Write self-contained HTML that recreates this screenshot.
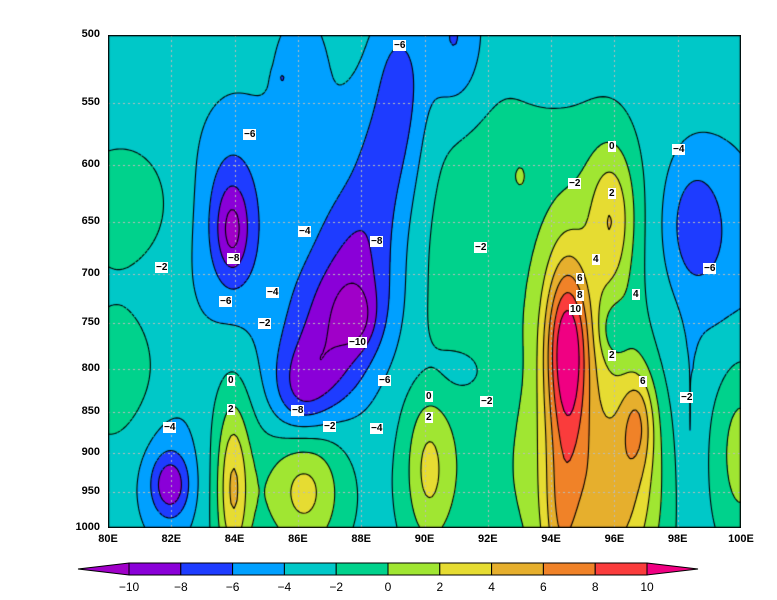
<!DOCTYPE html>
<html><head><meta charset="utf-8"><style>
body{margin:0;background:#fff;width:777px;height:600px;overflow:hidden;position:relative;font-family:"Liberation Sans",sans-serif;}
#c{position:absolute;left:108px;top:35px;}
.t{position:absolute;font-size:11px;font-weight:bold;color:#000;}
.yl{width:40px;text-align:right;left:60px;}
.xl{top:533px;width:40px;text-align:center;}
.lb{position:absolute;background:#fff;font-size:10px;font-weight:bold;padding:0 1px;line-height:11px;}
</style></head><body>
<canvas id="c" width="633" height="493"></canvas>
<svg width="777" height="600" style="position:absolute;left:0;top:0" id="ov"></svg>
<div id="labs"></div>
<script>
const W=633,H=493;
const YP=p=>35+493*Math.log(p/500)/Math.LN2;
const X=l=>(l-80)*31.65;
const B=[
[125,205,2.3,40,45],[118,375,2.3,30,50],
[232,220,-3.5,20,55],[232,232,-3,10,28],[230,230,-1.3,45,110],
[300,60,-1,20,45],[282,78,-2,4,5],
[400,80,-3.3,18,50],[385,160,-2.8,25,50],[360,240,-3,30,45],[345,310,-4.5,35,40],[320,370,-4,30,35],[300,400,-3,20,30],[357,318,-2.5,12,20],[340,260,-1.2,60,170],
[455,40,-3.5,20,50],
[695,225,-3.2,18,40],[700,240,-1.5,40,90],[741,260,-1,25,80],
[475,260,2.5,55,130],[570,200,0.6,40,60],[520,175,1.5,5,10],
[460,370,-1.5,30,25],
[170,485,-4.5,12,20],[170,480,-2.5,25,50],
[233,490,4.5,10,55],[233,470,2.5,20,90],
[305,490,4,25,45],[300,490,2,45,60],
[428,470,3.5,15,50],[430,480,1.5,30,80],
[485,490,1,35,60],
[567,365,7,15,75],[567,335,4,16,50],[590,420,4.5,40,150],[560,500,1.5,50,120],[600,528,2,40,80],[560,528,3,12,60],[630,490,3,25,60],
[612,230,3,15,45],[612,190,2.5,20,50],[638,420,5,12,35],[614,330,-2.5,10,20],
[741,450,4,20,70],[690,460,-1.5,8,80]];
function f(x,y){let v=-3;for(const b of B){const dx=(x-b[0])/b[3],dy=(y-b[1])/b[4];v+=b[2]*Math.exp(-0.5*(dx*dx+dy*dy));}return v;}
const cols=["#a000c8","#8a00d8","#1e3cff","#00a0ff","#00c8c8","#00d28c","#a0e632","#e6dc32","#e6af2d","#f08228","#fa3c3c","#f00082"];
function ci(v){let i=Math.floor((v+10)/2)+1;return Math.max(0,Math.min(11,i));}
const rgb=cols.map(c=>[parseInt(c.substr(1,2),16),parseInt(c.substr(3,2),16),parseInt(c.substr(5,2),16)]);
const ctx=document.getElementById('c').getContext('2d');
const img=ctx.createImageData(W,H);
const S=3,gw=Math.ceil(W/S)+1,gh=Math.ceil(H/S)+1,G=[];
for(let j=0;j<gh;j++){G[j]=[];for(let i=0;i<gw;i++)G[j][i]=f(108+i*S,35+j*S);}
function gv(x,y){const i=Math.min(gw-2,Math.floor(x/S)),j=Math.min(gh-2,Math.floor(y/S));const fx=x/S-i,fy=y/S-j;
return G[j][i]*(1-fx)*(1-fy)+G[j][i+1]*fx*(1-fy)+G[j+1][i]*(1-fx)*fy+G[j+1][i+1]*fx*fy;}
for(let y=0;y<H;y++)for(let x=0;x<W;x++){const c=rgb[ci(gv(x,y))];const k=(y*W+x)*4;img.data[k]=c[0];img.data[k+1]=c[1];img.data[k+2]=c[2];img.data[k+3]=255;}
ctx.putImageData(img,0,0);
ctx.strokeStyle="#bbb";ctx.setLineDash([2,3]);ctx.lineWidth=1;
for(let l=82;l<100;l+=2){ctx.beginPath();ctx.moveTo(Math.round(X(l))+.5,0);ctx.lineTo(Math.round(X(l))+.5,H);ctx.stroke();}
for(let p=550;p<1000;p+=50){const y=Math.round(YP(p)-35);ctx.beginPath();ctx.moveTo(0,y+.5);ctx.lineTo(W,y+.5);ctx.stroke();}
ctx.lineWidth=1.1;ctx.strokeStyle="#000";
for(let lv=-10;lv<=10;lv+=2){
 ctx.setLineDash(lv<0?[3,2]:[]);ctx.beginPath();
 for(let j=0;j<gh-1;j++)for(let i=0;i<gw-1;i++){
  const a=G[j][i],b=G[j][i+1],c=G[j+1][i+1],d=G[j+1][i];const pts=[];
  const e=(v1,v2,x1,y1,x2,y2)=>{if((v1<lv)!=(v2<lv)){const t=(lv-v1)/(v2-v1);pts.push([x1+(x2-x1)*t,y1+(y2-y1)*t]);}};
  const x0=i*S,y0=j*S;
  e(a,b,x0,y0,x0+S,y0);e(b,c,x0+S,y0,x0+S,y0+S);e(c,d,x0+S,y0+S,x0,y0+S);e(d,a,x0,y0+S,x0,y0);
  for(let k=0;k+1<pts.length;k+=2){ctx.moveTo(pts[k][0],pts[k][1]);ctx.lineTo(pts[k+1][0],pts[k+1][1]);}
 }
 ctx.stroke();
}
ctx.setLineDash([]);ctx.lineWidth=1.5;ctx.strokeRect(0.5,0.5,W-1,H-1);
let h="";
for(let p=500;p<=1000;p+=50)h+=`<div class="t yl" style="top:${YP(p)-7}px">${p}</div>`;
for(let l=80;l<=100;l+=2)h+=`<div class="t xl" style="left:${108+X(l)-20}px">${l}E</div>`;
const L=[[399,46,"-6"],[249,135,"-6"],[161,268,"-2"],[233,259,"-8"],[225,302,"-6"],[304,232,"-4"],[272,293,"-4"],[264,324,"-2"],[376,242,"-8"],[354,343,"-10"],[384,381,"-6"],[297,411,"-8"],[329,427,"-2"],[376,429,"-4"],[169,428,"-4"],[233,381,"0"],[233,410,"2"],[431,397,"0"],[431,418,"2"],[486,402,"-2"],[480,248,"-2"],[574,184,"-2"],[614,147,"0"],[614,194,"2"],[598,260,"4"],[582,279,"6"],[582,296,"8"],[575,310,"10"],[638,295,"4"],[614,356,"2"],[645,382,"6"],[678,150,"-4"],[709,269,"-6"],[686,398,"-2"]];
for(const l of L)h+=`<div class="lb" style="left:${l[0]-6}px;top:${l[1]-6}px">${l[2].replace('-','−')}</div>`;
let s=`<polygon points="78,569 129,563 129,575" fill="#a000c8" stroke="#000"/>`;
for(let i=0;i<10;i++)s+=`<rect x="${129+i*51.8}" y="563" width="51.8" height="12" fill="${cols[i+1]}" stroke="#000"/>`;
s+=`<polygon points="647,563 698,569 647,575" fill="#f00082" stroke="#000"/>`;
document.getElementById('ov').innerHTML=s;
for(let i=0;i<=10;i++){const v=-10+2*i;h+=`<div class="t" style="top:580px;left:${129+i*51.8-15}px;width:30px;text-align:center;font-weight:normal;font-size:12px">${v<0?'−'+(-v):v}</div>`;}
document.getElementById('labs').innerHTML=h;
</script>
</body></html>
